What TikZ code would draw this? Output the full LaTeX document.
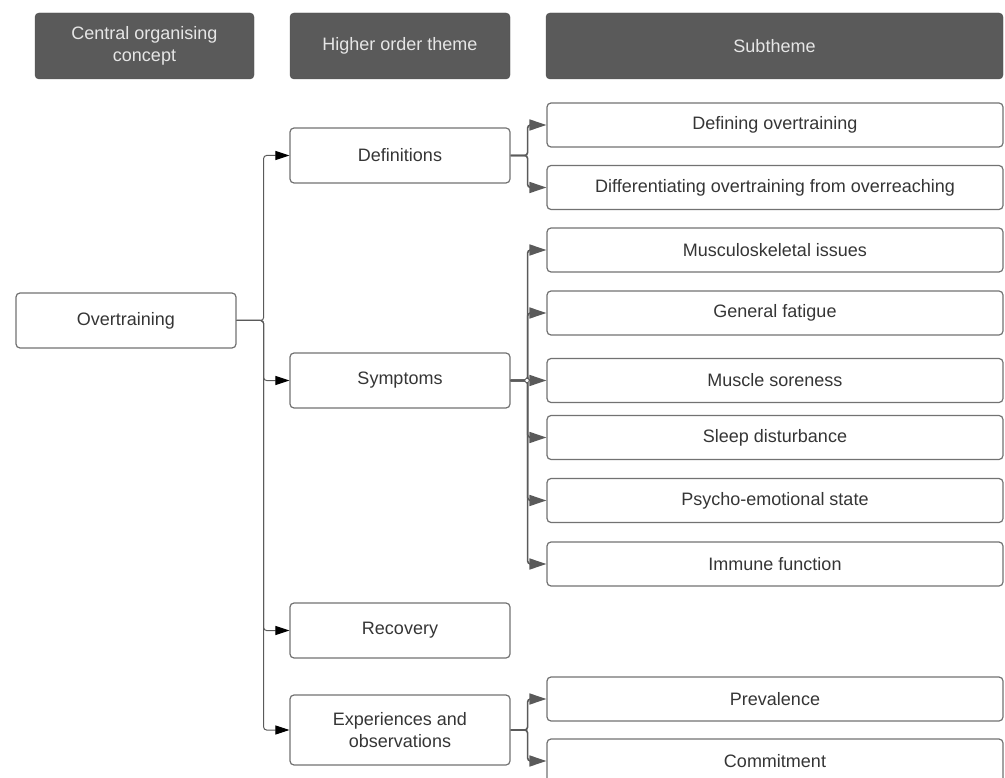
\documentclass[tikz,border=0pt]{standalone}
\usepackage{fontspec}
\setmainfont{Liberation Sans}
\usetikzlibrary{arrows.meta}
\definecolor{hdrfill}{HTML}{5A5A5A}
\definecolor{hdrtext}{HTML}{E6E6E6}
\definecolor{boxline}{HTML}{727272}
\definecolor{linkgray}{HTML}{5A5A5A}
\definecolor{txtgray}{HTML}{353535}
\tikzset{x=1pt, y=-1pt,
    every node/.style={
        font=\fontsize{18}{22}\selectfont,
        align=center,
        inner sep=0pt},
    header/.style={
        fill=hdrfill,
        draw=hdrfill!85!black,
        text=hdrtext,
        rounded corners=4pt,
        minimum height=66pt},
    topic/.style={
        draw=boxline,
        line width=1.2pt,
        text=txtgray,
        rounded corners=4pt,
        minimum width=220pt,
        minimum height=55pt},
    subtopic/.style={
        topic,
        minimum width=456pt,
        minimum height=44pt},
    mainlink/.style={
        draw=linkgray,
        line width=1pt,
        rounded corners=3pt,
        -{Triangle[length=14pt,width=9pt,color=black]}},
    sublink/.style={
        draw=linkgray,
        line width=1.6pt,
        rounded corners=3pt,
        -{Triangle[length=17pt,width=11pt]}}}

\begin{document}
\begin{tikzpicture}
        \useasboundingbox (0,0) rectangle (1005,778);

        % column headers
        \node[header, minimum width=219pt] (hconcept) at (144.5,46) {Central organising\\concept};
        \node[header, minimum width=220pt] (htheme) at (400,46) {Higher order theme};
        \node[header, minimum width=457pt] (hsub) at (774.5,46) {Subtheme};

        % concept and themes
        \node[topic] (over) at (126,320.5) {Overtraining};
        \node[topic] (defs) at (400,155.5) {Definitions};
        \node[topic] (symp) at (400,380.5) {Symptoms};
        \node[topic] (recov) at (400,630.5) {Recovery};
        \node[topic, minimum height=70pt] (exper) at (400,730) {Experiences and\\observations};

        % subthemes
        \node[subtopic] (defining) at (775,125) {Defining overtraining};
        \node[subtopic] (differ) at (775,187.5) {Differentiating overtraining from overreaching};
        \node[subtopic] (musc) at (775,250) {Musculoskeletal issues};
        \node[subtopic] (fatigue) at (775,313) {General fatigue};
        \node[subtopic] (sore) at (775,380.5) {Muscle soreness};
        \node[subtopic] (sleep) at (775,437.5) {Sleep disturbance};
        \node[subtopic] (psycho) at (775,500.5) {Psycho-emotional state};
        \node[subtopic] (immune) at (775,564) {Immune function};
        \node[subtopic] (preval) at (775,699) {Prevalence};
        \node[subtopic] (commit) at (775,761) {Commitment};

        \foreach \t in {defs,symp,recov,exper}
            \draw[mainlink] (over.east) -- ++(27,0) |- (\t.west);

        \foreach \s in {defining,differ}
            \draw[sublink] (defs.east) -- ++(17,0) |- (\s.west);
        \foreach \s in {musc,fatigue,sore,sleep,psycho,immune}
            \draw[sublink] (symp.east) -- ++(17,0) |- (\s.west);
        \foreach \s in {preval,commit}
            \draw[sublink] (exper.east) -- ++(17,0) |- (\s.west);
        \draw[linkgray, line width=0.8pt, fill=white] (527,380.5) circle (2.2);
    \end{tikzpicture}
\end{document}
